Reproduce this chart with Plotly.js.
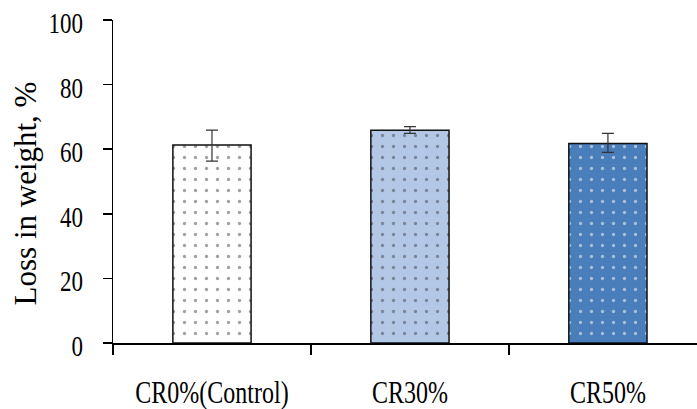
<!DOCTYPE html>
<html><head><meta charset="utf-8">
<script src="https://cdn.plot.ly/plotly-3.0.1.min.js"></script>
<style>body{margin:0;padding:0;background:#fff}#c{width:697px;height:409px}</style>
</head><body><div id="c"></div>
<script>
var categories = ["CR0%(Control)", "CR30%", "CR50%"];
var values = [61.3, 65.9, 61.8];
var errPlus = [4.6, 1.1, 3.1];
var errMinus = [5.0, 1.0, 2.8];
var yTicks = [0, 20, 40, 60, 80, 100];

var trace = {
  type: 'bar', x: categories, y: values, width: 0.395,
  error_y: {type: 'data', symmetric: false, array: errPlus, arrayminus: errMinus,
            color: '#333', thickness: 1.2, width: 6},
  marker: {
    color: ['#ffffff', '#b3c8e7', '#4a7ebb'],
    line: {color: '#111', width: 1.5},
    pattern: {shape: '.', fillmode: 'overlay',
              fgcolor: ['#6d9ad4', '#ffffff', '#e6edf7'],
              bgcolor: ['#ffffff', '#b3c8e7', '#4a7ebb'],
              size: 11, solidity: 0.07}
  },
  hoverinfo: 'none'
};
var fam = 'Liberation Serif, Times New Roman, serif';
var yfont = {family: fam, size: 23, color: '#000'};
var xfont = {family: fam, size: 24, color: '#000'};
var tfont = {family: fam, size: 31, color: '#000'};
Plotly.newPlot('c', [trace], {
  width: 697, height: 409,
  margin: {l: 113, r: 0, t: 20, b: 66},
  paper_bgcolor: '#fff', plot_bgcolor: '#fff',
  font: yfont, showlegend: false,
  xaxis: {range: [-0.5, 2.45], showline: true, linecolor: '#000', linewidth: 1.5,
          ticks: 'outside', tickson: 'boundaries', ticklen: 10, tickcolor: '#000', tickwidth: 1.5,
          ticklabelstandoff: 27, showgrid: false, zeroline: false, tickfont: xfont},
  yaxis: {range: [0, 100], tickvals: yTicks, showline: true, linecolor: '#000', linewidth: 1.5,
          ticks: 'outside', ticklen: 9, tickcolor: '#000', tickwidth: 1.5,
          ticklabelstandoff: 15, showgrid: false, zeroline: false, tickfont: yfont,
          title: {text: 'Loss in weight, %', font: tfont, standoff: 6}}
}, {staticPlot: true}).then(function(gd){
  function stretch(sel, s, dx, dy){
    gd.querySelectorAll(sel).forEach(function(el){
      var bb = el.getBBox();
      var cx = bb.x + bb.width/2, cy = bb.y + bb.height/2;
      var t = el.getAttribute('transform') || '';
      el.setAttribute('transform', 'translate(' + dx + ',' + dy + ') ' + t + ' translate(' + cx + ',' + cy + ') scale(1,' + s + ') translate(' + (-cx) + ',' + (-cy) + ')');
    });
  }
  stretch('.xtick text', 1.35, 0, 0);
  stretch('.ytick text', 1.25, 0, 3);
  stretch('.ytitle', 1, 4, 12);
});
</script></body></html>
